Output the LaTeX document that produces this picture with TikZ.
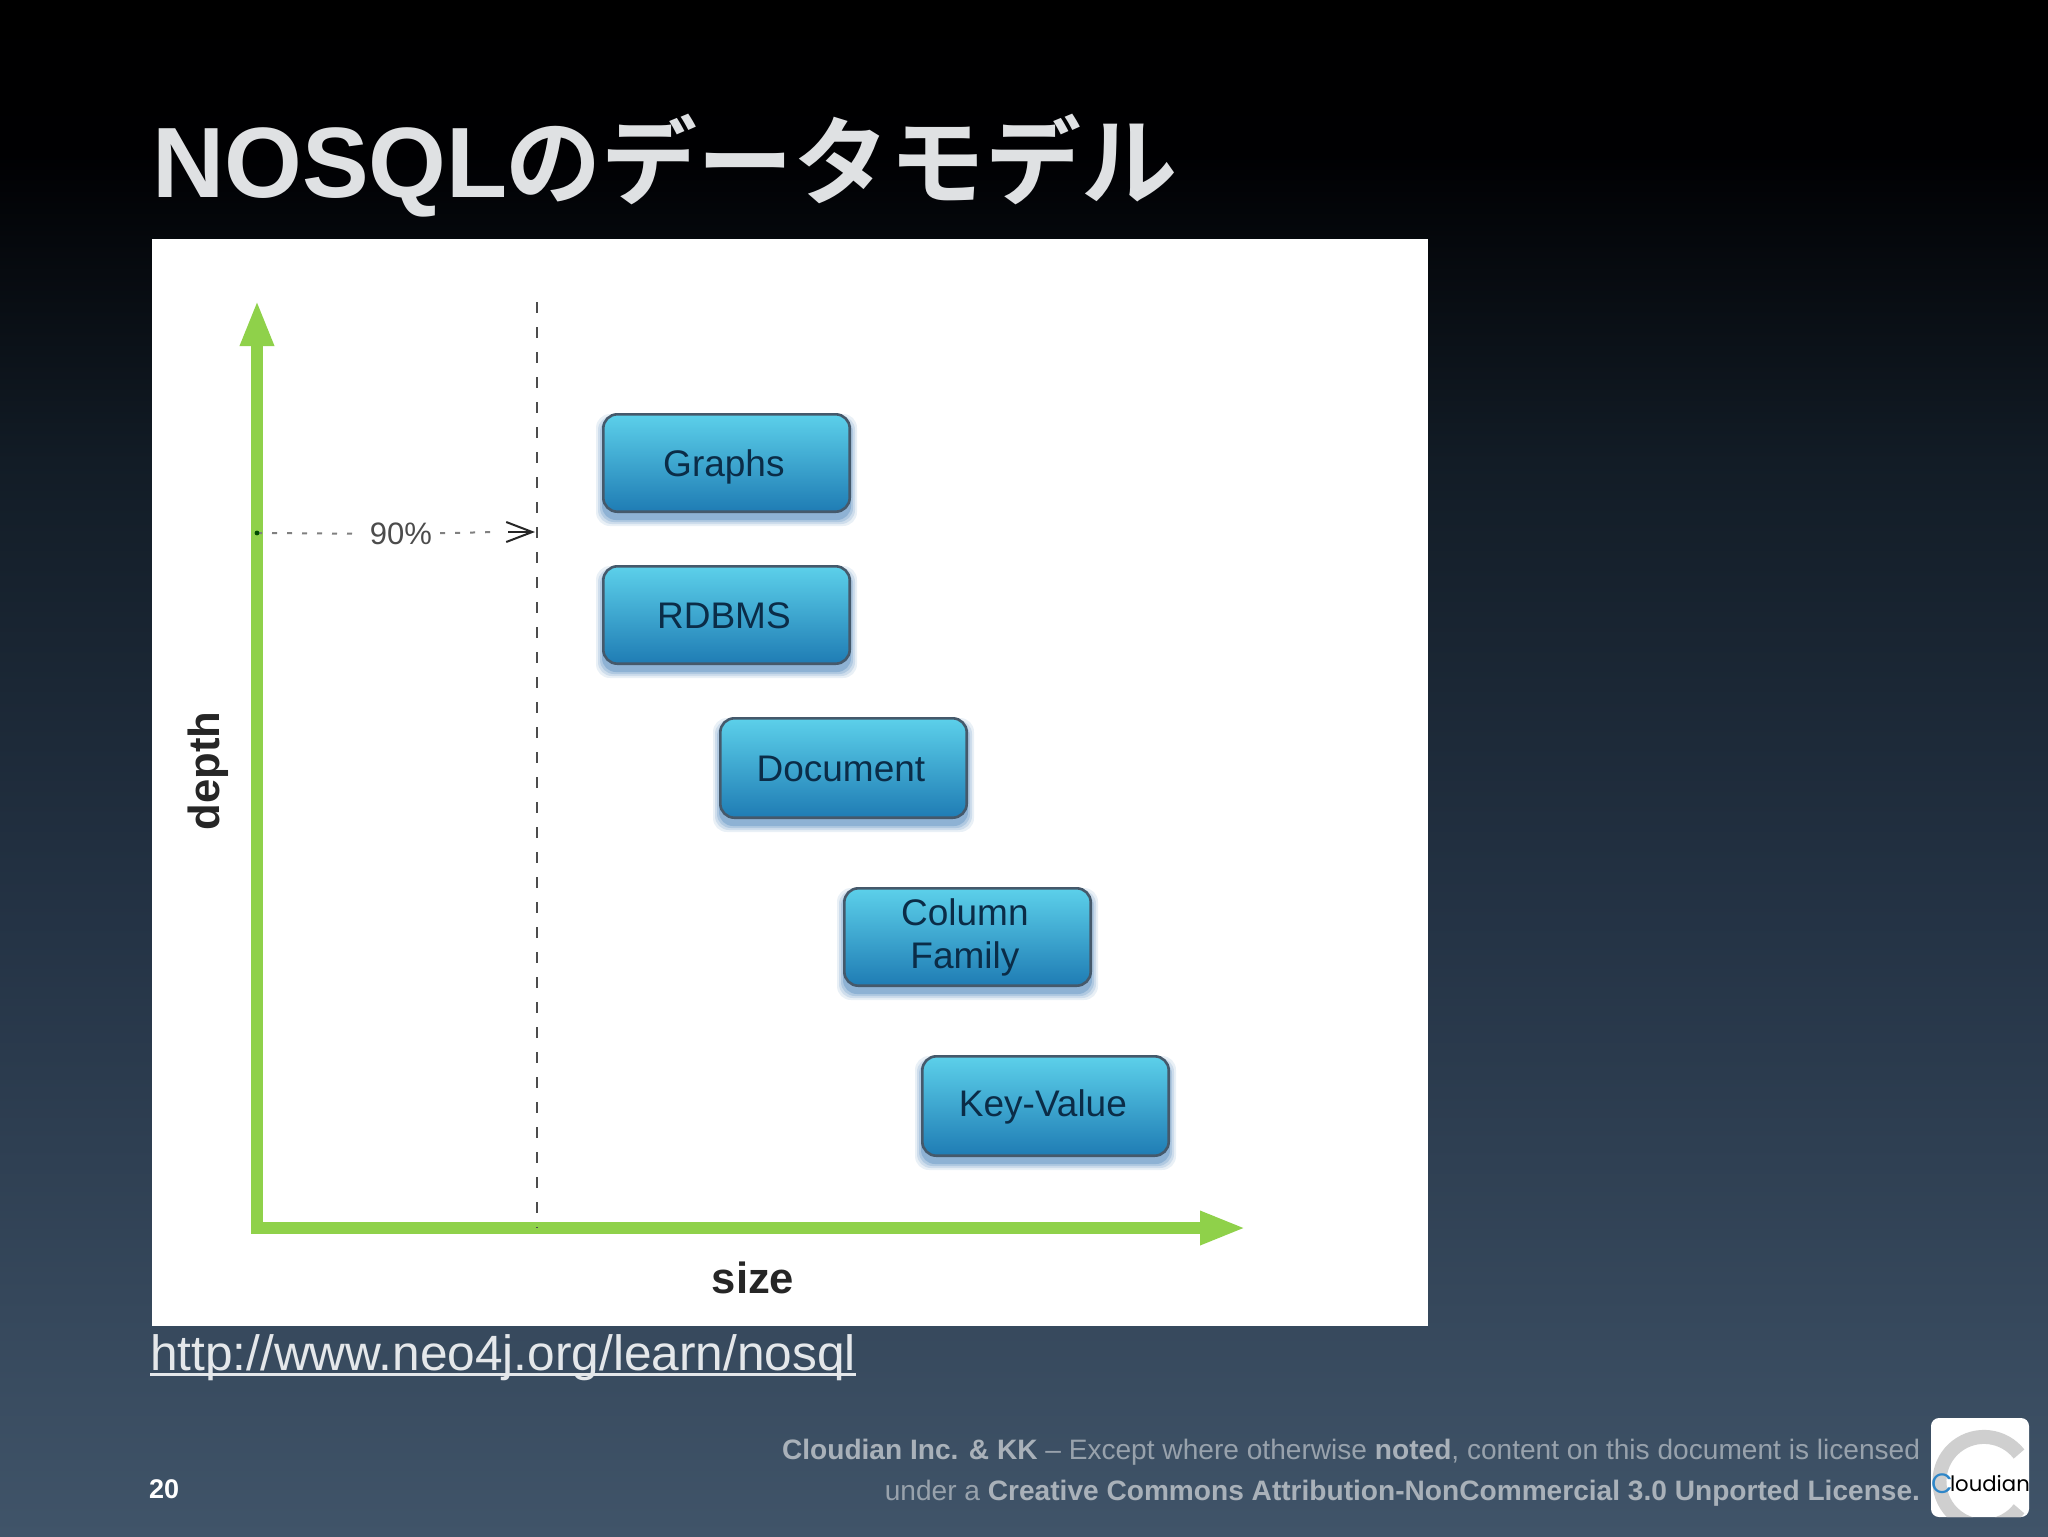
\documentclass[tikz,border=0pt]{standalone}
\usepackage{fontspec}
\setmainfont{Liberation Sans}
\newfontfamily\cjk{Noto Sans CJK JP}[BoldFont={Noto Sans CJK JP Bold}]
\newfontfamily\logofont{Poppins}
\usetikzlibrary{arrows.meta,calc}
\definecolor{titlecol}{HTML}{DFE1E3}
\definecolor{axisgreen}{HTML}{8FD14A}
\definecolor{boxtop}{HTML}{5CD0EA}
\definecolor{boxbot}{HTML}{1F7CB4}
\definecolor{boxline}{HTML}{45596B}
\definecolor{boxtext}{HTML}{0B2C47}
\definecolor{boxshadow}{HTML}{2A70B0}
\definecolor{footgrey}{HTML}{98A2AC}
\definecolor{footbold}{HTML}{A9B1B9}
\definecolor{linkcol}{HTML}{E4E7EA}
\definecolor{logoblue}{HTML}{2E86C8}
\definecolor{logogrey}{HTML}{CFCFCF}
\definecolor{bga}{HTML}{405469}
\definecolor{bgb}{HTML}{243345}
\definecolor{bgc}{HTML}{121C26}
\definecolor{bgd}{HTML}{000002}
\definecolor{bge}{HTML}{000000}
\pgfdeclareverticalshading{slidebg}{100bp}{
  color(0bp)=(bga);
  color(25bp)=(bga);
  color(45bp)=(bgb);
  color(60bp)=(bgc);
  color(70bp)=(bgd);
  color(75bp)=(bge);
  color(100bp)=(bge)}
\tikzset{
  x=0.5pt,y=-0.5pt,
  every node/.style={inner sep=0pt,outer sep=0pt},
  modelbox/.style={rounded corners=7pt,draw=boxline,line width=1.3pt,top color=boxtop,bottom color=boxbot,
    minimum width=123.2pt,minimum height=48.7pt,text=boxtext,font=\fontsize{18.5}{21.5}\selectfont,align=center,inner sep=0pt},
  capline/.style={text height=13.2pt,text depth=0pt},
  axisline/.style={draw=axisgreen,line width=6pt,{Triangle[length=23pt,width=15.5pt,fill=axisgreen]}-{Triangle[length=23pt,width=15.5pt,fill=axisgreen]}},
  axislabel/.style={font=\fontsize{21.8}{24}\selectfont\bfseries,text=black!85},
  dashline/.style={draw=black!70,line width=1pt,dash pattern=on 5.5pt off 7pt},
  dotline/.style={draw=black!50,line width=1pt,dash pattern=on 2.5pt off 5pt},
  footer/.style={font=\fontsize{14.05}{20.25}\selectfont,text=footgrey,align=right,anchor=south east},
}
\newcommand{\softshadow}[4]{%
  \foreach \g/\o in {6/0.10,4/0.14,2/0.18,0/0.25}{%
    \fill[boxshadow,opacity=\o,rounded corners=7pt] (#1-\g,#3-\g+7) rectangle (#2+\g,#4+\g+7);}}
\newcommand{\lineshift}{\kern2.6pt}
\begin{document}
\begin{tikzpicture}
\useasboundingbox (0,0) rectangle (2048,1536);
\shade[shading=slidebg] (0,0) rectangle (2048,1536);
\node[anchor=base west,text=titlecol,font=\fontsize{50}{50}\selectfont\bfseries] (title) at (152,197) {NOSQL\kern-1pt{\fontsize{48}{50}\selectfont\cjk\bfseries のデータモデル}};
\fill[white] (152,239) rectangle (1428,1326);
% axes
\coordinate (O) at (257,1228);
\coordinate (ytip) at (257,300);
\coordinate (xtip) at (1246,1228);
\draw[axisline] (ytip) -- (O) -- (xtip);
\coordinate (dtop) at (537,302);
\coordinate (dbot) at (537,1228);
\draw[dashline] (dtop) -- (dbot);
\node[axislabel,rotate=90] (depth) at (208,771) {depth};
\node[axislabel] (size) at (753,1278) {size};
% 90 percent
\coordinate (p0) at (257,533);
\coordinate (p1) at (535,532);
\coordinate (p2) at (497,532);
\coordinate (p3) at (508,532);
\node[font=\fontsize{15.5}{16}\selectfont,text=black!70,inner xsep=4pt,inner ysep=1pt] (pct) at (401,534) {90\%};
\draw[dotline] (p0) -- (pct);
\draw[dotline] (pct) -- (p2);
\draw[draw=black!85,line width=1pt,-{Straight Barb[length=13pt,width=10pt]}] (p3) -- (p1);
\fill[black!70!green] (p0) circle (1.2pt);
% boxes
\softshadow{602}{851}{413}{513}
\softshadow{602}{851}{565}{665}
\softshadow{719}{968}{717}{819}
\softshadow{843}{1092}{887}{987}
\softshadow{921}{1170}{1055}{1157}
\node[modelbox,capline] (graphs) at (726.5,463) {Graphs\lineshift};
\node[modelbox,capline] (rdbms) at (726.5,615) {RDBMS\lineshift};
\node[modelbox,capline,minimum height=49.7pt] (document) at (843.5,768) {Document\lineshift};
\node[modelbox] (column) at (967.5,937) {Column\lineshift\\Family\lineshift};
\node[modelbox,capline,text depth=3pt,minimum height=49.7pt] (keyvalue) at (1045.5,1106) {Key-Value\lineshift};
% link
\node[anchor=base west,text=linkcol,font=\fontsize{24.8}{28}\selectfont] (link) at (150,1370) {http://www.neo4j.org/learn/nosql};
\draw[linkcol,line width=1.1pt] ($(link.base west)+(0,4.5)$) -- ($(link.base east)+(0,4.5)$);
\node[anchor=base west,text=white,font=\fontsize{13.5}{16}\selectfont\bfseries] (pagenum) at (149,1498) {20};
\node[footer] (foot) at (1920,1506) {{\color{footbold}\bfseries Cloudian Inc. \& KK} – Except where otherwise {\color{footbold}\bfseries noted}, content on this document is licensed\\
under a {\color{footbold}\bfseries Creative Commons Attribution-NonCommercial 3.0 Unported License.}};
% logo
\fill[white,rounded corners=4pt] (1931,1418) rectangle (2029,1517);
\begin{scope}
\clip[rounded corners=4pt] (1931,1418) rectangle (2029,1517);
\draw[logogrey,line width=7pt] (2019,1454) arc[start angle=38,end angle=322,radius=44.5*0.5pt];
\end{scope}
\node[anchor=base west,text=logoblue,font=\fontsize{14}{15}\selectfont\logofont] (logoc) at (1931,1493) {C};
\node[anchor=base west,text=black,font=\fontsize{10.6}{12}\selectfont\logofont] (logot) at (1950,1491) {loudian};
\end{tikzpicture}
\end{document}
